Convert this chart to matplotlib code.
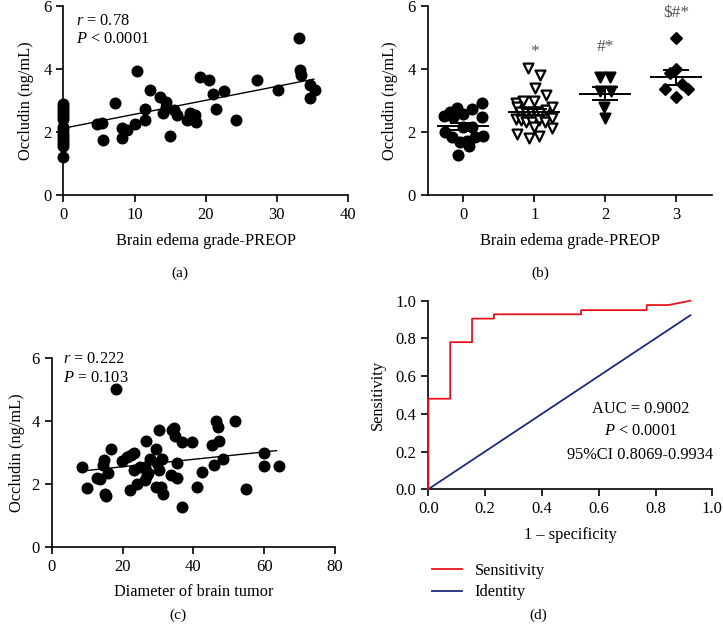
import numpy as np
import matplotlib
matplotlib.use("Agg")
import matplotlib.pyplot as plt

plt.rcParams['font.family'] = ['Liberation Serif', 'DejaVu Serif']
plt.rcParams['mathtext.fontset'] = 'custom'
plt.rcParams['mathtext.it'] = 'Liberation Serif:italic'
plt.rcParams['mathtext.rm'] = 'Liberation Serif'
plt.rcParams['font.size'] = 11

# (a) occludin vs brain edema grade
edema_x = [0]*14 + [4.7, 5.4, 5.5, 7.3, 8.2, 8.2, 8.9, 10.0, 10.3, 11.5, 11.5, 12.1, 13.6,
                    14.0, 14.4, 14.4, 15.0, 15.6, 15.9, 17.4, 17.8, 18.5, 18.6, 19.2, 20.5,
                    21.0, 21.4, 22.5, 24.2, 27.2, 30.1, 33.1, 33.3, 33.4, 34.6, 34.7, 35.3]
edema_y = [2.90, 2.80, 2.70, 2.60, 2.50, 2.40, 2.15, 2.05, 1.95, 1.85, 1.75, 1.65, 1.55, 1.22,
           2.24, 2.28, 1.75, 2.92, 1.80, 2.14, 2.06, 2.26, 3.95, 2.73, 2.39, 3.32, 3.10,
           2.60, 2.94, 2.79, 1.88, 2.71, 2.55, 2.37, 2.60, 2.55, 2.31, 3.75, 3.66,
           3.20, 2.74, 3.31, 2.38, 3.66, 3.32, 4.99, 3.98, 3.82, 3.50, 3.08, 3.32]
fit_a = (0.0443, 2.12)   # slope, intercept
fit_a_range = (0, 35.2)

# (b) occludin by edema grade
g0_y = [2.52, 2.62, 2.75, 2.57, 2.72, 2.91, 2.49, 1.99, 1.85, 1.69, 1.72, 1.56, 1.83, 1.87,
        1.26, 2.17, 2.17, 2.49]
g0_dx = [-0.27, -0.18, -0.09, 0.0, 0.13, 0.26, 0.26, -0.26, -0.16, -0.05, 0.05, 0.08, 0.17,
         0.28, -0.07, 0.0, 0.12, -0.14]
g1_y = [4.02, 3.81, 3.39, 3.17, 2.91, 2.99, 2.99, 2.80, 2.65, 2.65, 2.65, 2.65, 2.65, 2.70,
        2.80, 2.40, 2.38, 2.33, 2.33, 2.38, 2.33, 2.43, 2.17, 2.12, 1.93, 1.82, 1.87]
g1_dx = [-0.09, 0.08, 0.01, 0.16, -0.26, -0.16, 0.0, -0.24, -0.20, -0.11, -0.05, 0.02, 0.08,
         0.16, 0.25, -0.26, -0.19, -0.11, -0.03, 0.07, 0.15, 0.25, 0.0, 0.25, -0.24, -0.08, 0.07]
g2_y = [3.74, 3.74, 3.31, 3.31, 2.80, 2.43]
g2_dx = [-0.08, 0.07, -0.07, 0.08, -0.01, 0.0]
g3_y = [5.0, 4.0, 3.86, 3.52, 3.35, 3.35, 3.10]
g3_dx = [0.0, 0.0, -0.09, 0.08, -0.16, 0.16, 0.0]
sig_labels = ['', '*', '#*', '$#*']
sig_y = [None, 4.55, 4.71, 5.79]

# (c) occludin vs tumor diameter
diam_x = [8.5, 10.1, 12.7, 13.7, 14.9, 14.6, 16.0, 16.8, 15.1, 15.3, 19.8, 21.4, 22.3, 23.1,
          22.1, 24.0, 23.1, 24.9, 26.4, 26.4, 26.8, 27.3, 26.5, 27.8, 29.5, 29.8, 30.4, 29.5,
          30.9, 31.5, 30.3, 31.1, 33.6, 33.9, 34.5, 34.8, 35.3, 35.5, 36.9, 36.7, 39.5, 40.9,
          42.4, 45.4, 45.8, 46.4, 47.1, 47.3, 48.3, 51.8, 54.9, 60.0, 60.0, 64.3, 18.2]
diam_y = [2.55, 1.88, 2.20, 2.16, 2.76, 2.60, 2.36, 3.11, 1.68, 1.61, 2.73, 2.87, 2.92, 2.97,
          1.79, 2.01, 2.44, 2.53, 2.53, 2.12, 2.28, 2.34, 3.37, 2.78, 3.11, 2.65, 2.44, 1.91,
          1.91, 1.68, 3.72, 2.78, 2.28, 3.72, 3.79, 3.53, 2.18, 2.65, 1.27, 3.32, 3.32, 1.91,
          2.39, 3.24, 2.60, 4.01, 3.82, 3.37, 2.78, 4.00, 1.83, 2.97, 2.57, 2.57, 5.01]
fit_c = (0.0118, 2.31)
fit_c_range = (8.5, 63.5)

# (d) ROC
fpr = [0, 0, 0.077, 0.077, 0.154, 0.154, 0.231, 0.231, 0.538, 0.538, 0.769, 0.769, 0.846, 0.923]
tpr = [0, 0.48, 0.48, 0.78, 0.78, 0.905, 0.905, 0.928, 0.928, 0.95, 0.95, 0.977, 0.977, 1.0]
identity = [0, 0.923]

W, H = 723, 631
fig = plt.figure(figsize=(W/100, H/100), dpi=100)
LBL = 11.8
TCK = 12


def add_ax(x0, y0, x1, y1):
    # pixel box (top-origin) -> figure axes
    return fig.add_axes([x0/W, 1 - y1/H, (x1-x0)/W, (y1-y0)/H])


def style(ax):
    for s in ['top', 'right']:
        ax.spines[s].set_visible(False)
    for s in ['left', 'bottom']:
        ax.spines[s].set_linewidth(1.2)
    ax.tick_params(direction='out', length=5, width=1.2, labelsize=TCK)


# panel a
ax = add_ax(63.5, 6, 348, 195)
style(ax)
ax.scatter(edema_x, edema_y, s=58, color='black', clip_on=False, zorder=3)
xs = np.array(fit_a_range)
ax.plot(xs, fit_a[0]*xs + fit_a[1], color='black', lw=1)
ax.set_xlim(0, 40)
ax.set_ylim(0, 6)
ax.set_xticks([0, 10, 20, 30, 40])
ax.set_yticks([0, 2, 4, 6])
ax.set_xlabel('Brain edema grade-PREOP', fontsize=LBL, labelpad=7)
ax.set_ylabel('Occludin (ng/mL)', fontsize=LBL, labelpad=7)
ax.text(1.8, 5.53, '$r$ = 0.78', fontsize=LBL, va='center')
ax.text(1.8, 4.94, '$P$ < 0.0001', fontsize=LBL, va='center')
fig.text(180/W, 1 - 273/H, '(a)', ha='center', va='center', fontsize=11)

# panel b
ax = add_ax(427.7, 6, 711.7, 195)
style(ax)
groups = [(g0_y, g0_dx, 'o', 'black'), (g1_y, g1_dx, 'v', 'white'),
          (g2_y, g2_dx, 'v', 'black'), (g3_y, g3_dx, 'D', 'black')]
for i, (ys, dx, m, fc) in enumerate(groups):
    ys = np.array(ys)
    sz = 30 if m == 'D' else 50
    ax.scatter(i + np.array(dx), ys, s=sz, marker=m, facecolor=fc, edgecolor='black',
               linewidths=1.6, zorder=3)
    mean = ys.mean()
    sem = ys.std(ddof=1) / np.sqrt(len(ys))
    ax.plot([i-0.35, i+0.35], [mean, mean], color='black', lw=1.4, zorder=4)
    ax.plot([i, i], [mean-sem, mean+sem], color='black', lw=1.4, zorder=4)
    for v in (mean-sem, mean+sem):
        ax.plot([i-0.17, i+0.17], [v, v], color='black', lw=1.4, zorder=4)
    if sig_y[i] is not None:
        ax.text(i, sig_y[i], sig_labels[i], ha='center', va='center', fontsize=12.5,
                color='#555555')
ax.set_xlim(-0.5, 3.5)
ax.set_ylim(0, 6)
ax.set_xticks([0, 1, 2, 3])
ax.set_yticks([0, 2, 4, 6])
ax.set_xlabel('Brain edema grade-PREOP', fontsize=LBL, labelpad=7)
ax.set_ylabel('Occludin (ng/mL)', fontsize=LBL, labelpad=7)
fig.text(540/W, 1 - 273/H, '(b)', ha='center', va='center', fontsize=11)

# panel c
ax = add_ax(51.7, 358.3, 335, 546.7)
style(ax)
ax.scatter(diam_x, diam_y, s=58, color='black', zorder=3)
xs = np.array(fit_c_range)
ax.plot(xs, fit_c[0]*xs + fit_c[1], color='black', lw=1)
ax.set_xlim(0, 80)
ax.set_ylim(0, 6)
ax.set_xticks([0, 20, 40, 60, 80])
ax.set_yticks([0, 2, 4, 6])
ax.set_xlabel('Diameter of brain tumor', fontsize=LBL, labelpad=7)
ax.set_ylabel('Occludin (ng/mL)', fontsize=LBL, labelpad=5)
ax.text(3.3, 5.97, '$r$ = 0.222', fontsize=LBL, va='center')
ax.text(3.3, 5.36, '$P$ = 0.103', fontsize=LBL, va='center')
fig.text(178/W, 1 - 615/H, '(c)', ha='center', va='center', fontsize=11)

# panel d
ax = add_ax(428.3, 300.7, 712.3, 489.2)
style(ax)
ax.plot(fpr, tpr, color='#e8141c', lw=1.3, label='Sensitivity', clip_on=False, zorder=5)
ax.plot(identity, identity, color='#1c2a78', lw=1.3, label='Identity', clip_on=False, zorder=4)
ax.set_xlim(0, 1)
ax.set_ylim(0, 1)
ax.set_xticks(np.arange(0, 1.01, 0.2))
ax.set_yticks(np.arange(0, 1.01, 0.2))
ax.xaxis.set_major_formatter(matplotlib.ticker.FormatStrFormatter('%.1f'))
ax.yaxis.set_major_formatter(matplotlib.ticker.FormatStrFormatter('%.1f'))
ax.set_xlabel('1 \u2013 specificity', fontsize=LBL, labelpad=7)
ax.set_ylabel('Sensitivity', fontsize=LBL, labelpad=7)
ax.text(0.747, 0.425, 'AUC = 0.9002', ha='center', va='center', fontsize=LBL)
ax.text(0.747, 0.31, '$P$ < 0.0001', ha='center', va='center', fontsize=LBL)
ax.text(0.747, 0.18, '95%CI 0.8069-0.9934', ha='center', va='center', fontsize=LBL)
ax.legend(loc='upper left', bbox_to_anchor=(-0.01, -0.355), frameon=False, fontsize=LBL,
          handlelength=1.8, handletextpad=0.8, labelspacing=0.35, borderaxespad=0)
fig.text(538/W, 1 - 615/H, '(d)', ha='center', va='center', fontsize=11)

fig.savefig('out.png', dpi=100)
